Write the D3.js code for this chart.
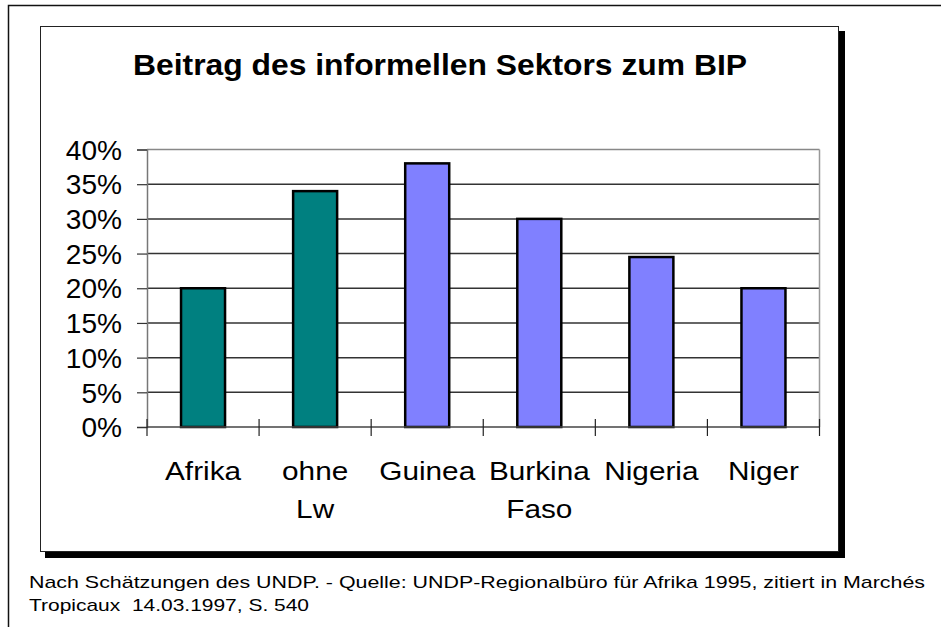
<!DOCTYPE html>
<html>
<head>
<meta charset="utf-8">
<script src="https://cdn.jsdelivr.net/npm/d3@7"></script>
<style>
  body { margin: 0; background: #fff; }
  svg { display: block; font-family: Arial, "Liberation Sans", sans-serif; }
  text { white-space: pre; }
</style>
</head>
<body>
<script>
// data
var categories = [["Afrika"], ["ohne", "Lw"], ["Guinea"], ["Burkina", "Faso"], ["Nigeria"], ["Niger"]];
var values = [20, 34, 38, 30, 24.5, 20];
var colors = ["#008080", "#008080", "#8080ff", "#8080ff", "#8080ff", "#8080ff"];
var yTicks = [0, 5, 10, 15, 20, 25, 30, 35, 40];
var title = "Beitrag des informellen Sektors zum BIP";
var note = ["Nach Schätzungen des UNDP. - Quelle: UNDP-Regionalbüro für Afrika 1995, zitiert in Marchés",
            "Tropicaux  14.03.1997, S. 540"];

var width = 941, height = 627;
var svg = d3.select("body").append("svg").attr("width", width).attr("height", height);

// outer frame (only top + left visible)
svg.append("path")
  .attr("d", "M8.5,627 V5.5 H941")
  .attr("fill", "none").attr("stroke", "#111").attr("stroke-width", 1.5);

// chart box with shadow
svg.append("rect").attr("x", 45).attr("y", 31).attr("width", 800).attr("height", 527).attr("fill", "#000");
svg.append("rect").attr("x", 40.5).attr("y", 26.5).attr("width", 798).attr("height", 525)
  .attr("fill", "#fff").attr("stroke", "#222").attr("stroke-width", 1);

svg.append("text").attr("x", 440).attr("y", 74.5)
  .attr("text-anchor", "middle").attr("font-weight", "bold").attr("font-size", 29)
  .attr("textLength", 614).attr("lengthAdjust", "spacingAndGlyphs")
  .text(title);

var plot = { left: 147, top: 149.5, right: 819.5, bottom: 427 };

var x = d3.scaleBand().domain(d3.range(categories.length)).range([plot.left, plot.right]).padding(0);
var y = d3.scaleLinear().domain([0, 40]).range([plot.bottom, plot.top]);

// gridlines
svg.append("g").selectAll("line").data(yTicks.filter(function (d) { return d > 0; }))
  .enter().append("line")
  .attr("x1", plot.left).attr("x2", plot.right)
  .attr("y1", function (d) { return y(d); }).attr("y2", function (d) { return y(d); })
  .attr("stroke", function (d) { return d == 40 ? "#888" : "#333"; })
  .attr("stroke-width", 1.5);

// right edge of plot area
svg.append("line").attr("x1", plot.right).attr("x2", plot.right)
  .attr("y1", plot.top).attr("y2", plot.bottom)
  .attr("stroke", "#999").attr("stroke-width", 1.5);

// y axis
var yAxis = svg.append("g").attr("transform", "translate(" + plot.left + ",0)")
  .call(d3.axisLeft(y).tickValues(yTicks).tickSize(10).tickPadding(14)
    .tickFormat(function (d) { return d + "%"; }));
yAxis.select(".domain").attr("stroke", "#777").attr("stroke-width", 1.5);
yAxis.selectAll(".tick line").attr("stroke", "#333").attr("stroke-width", 1.2);
yAxis.selectAll(".tick text").attr("font-size", 27).attr("fill", "#000")
  .attr("font-family", "Arial, 'Liberation Sans', sans-serif").attr("dy", "0.36em")
  .attr("transform", "scale(1.04,1)");

// bars
var barW = 44;
svg.append("g").selectAll("rect").data(values).enter().append("rect")
  .attr("x", function (d, i) { return x(i) + x.bandwidth() / 2 - barW / 2; })
  .attr("y", function (d) { return y(d); })
  .attr("width", barW)
  .attr("height", function (d) { return y(0) - y(d); })
  .attr("fill", function (d, i) { return colors[i]; })
  .attr("stroke", "#000").attr("stroke-width", 2.5);

// x axis line and cross ticks
svg.append("line").attr("x1", plot.left).attr("x2", plot.right)
  .attr("y1", plot.bottom).attr("y2", plot.bottom)
  .attr("stroke", "#444").attr("stroke-width", 1.5);
var bounds = d3.range(categories.length + 1).map(function (i) { return plot.left + i * x.step(); });
svg.append("g").selectAll("line").data(bounds).enter().append("line")
  .attr("x1", function (d) { return d; }).attr("x2", function (d) { return d; })
  .attr("y1", plot.bottom - 8).attr("y2", plot.bottom + 9)
  .attr("stroke", "#222").attr("stroke-width", 1.2);

// category labels (reference glyphs are wider than Liberation Sans, so stretch)
var labels = svg.append("g").selectAll("g").data(categories).enter().append("g")
  .attr("transform", function (d, i) {
    return "translate(" + (x(i) + x.bandwidth() / 2) + ",480) scale(1.19,1)";
  })
  .append("text").attr("text-anchor", "middle").attr("font-size", 25);
labels.selectAll("tspan").data(function (d) { return d; }).enter().append("tspan")
  .attr("x", 0)
  .attr("dy", function (d, i) { return i == 0 ? 0 : 38; })
  .text(function (d) { return d; });

// source note
var noteLen = [896, 280];
svg.append("g").selectAll("text").data(note).enter().append("text")
  .attr("x", 29).attr("y", function (d, i) { return 587.5 + i * 23; })
  .attr("font-size", 17).attr("fill", "#000")
  .attr("textLength", function (d, i) { return noteLen[i]; })
  .attr("lengthAdjust", "spacingAndGlyphs")
  .text(function (d) { return d; });
</script>
</body>
</html>
